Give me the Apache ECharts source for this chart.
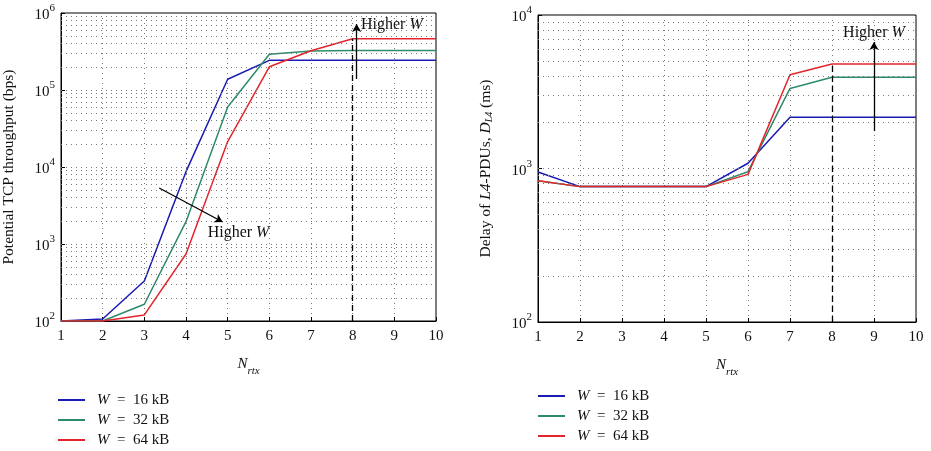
<!DOCTYPE html>
<html><head><meta charset="utf-8">
<script src="https://cdn.jsdelivr.net/npm/echarts@6/dist/echarts.min.js"></script>
<style>html,body{margin:0;padding:0;background:#fff}#c{width:931px;height:451px}</style>
</head><body><div id="c"></div>
<script>
const nrtx = [1,2,3,4,5,6,7,8,9,10];
const seriesNames = ['W = 16 kB','W = 32 kB','W = 64 kB'];
const thrW16 = [100,106,331,8700,138000,243000,243000,243000,243000,243000];
const thrW32 = [100,100,165,1950,60000,291000,321000,325000,325000,325000];
const thrW64 = [100,100,120,741,21400,200000,324000,463000,463000,463000];
const delW16 = [948,762,762,762,762,1082,2160,2160,2160,2160];
const delW32 = [832,762,762,762,762,953,3325,3925,3925,3925];
const delW64 = [832,762,762,762,762,916,4085,4800,4800,4800];
const thrTicks = [1e2,1e3,1e4,1e5,1e6];
const delTicks = [1e2,1e3,1e4];

const colors = ['#1a1ab4','#2e8b6a','#e3242b'];
const FONT = 'Liberation Serif';
const pair = arr => arr.map((v,i)=>[nrtx[i], v]);
function minorVals(ticks){
  const out=[];
  for(let i=0;i<ticks.length-1;i++){
    for(let k=2;k<=9;k++) out.push(ticks[i]*k);
    if(i>0) out.push(ticks[i]);
  }
  return out;
}
const gridLine = {color:'#777', width:1, type:[1,4]};
function gridSeries(idx, ticks){
  return {type:'line', xAxisIndex:idx, yAxisIndex:idx, data:[], z:1, silent:true,
    markLine:{silent:true, symbol:'none', label:{show:false}, lineStyle:gridLine, animation:false,
      data: minorVals(ticks).map(v=>({yAxis:v}))}};
}
const legendFmt = n => { const p = n.split(' = '); return '{i|W}  =  ' + p[1]; };
const legendRich = {i:{fontStyle:'italic', fontFamily:FONT, fontSize:15, color:'#111', lineHeight:14}};
const expFmt = v => '{b|10}{e|' + Math.round(Math.log10(v)) + '}';
const yLabel = {fontFamily:FONT, color:'#111', margin:6,
  formatter: expFmt,
  rich:{b:{fontSize:15, fontFamily:FONT, color:'#111', lineHeight:20, verticalAlign:'bottom'},
        e:{fontSize:11, fontFamily:FONT, color:'#111', lineHeight:10, verticalAlign:'top'}}};
const arrowLine = {color:'#000', width:1.3, type:'solid'};
const higherW = {show:true, formatter:'Higher {i|W}', fontFamily:FONT, fontSize:16, color:'#111',
  rich:{i:{fontStyle:'italic', fontFamily:FONT, fontSize:16, color:'#111'}}};

function xAx(idx){
  return {type:'value', gridIndex:idx, min:1, max:10, interval:1,
    name:'{n|N}{s|rtx}', nameLocation:'middle', nameGap:36,
    nameTextStyle:{rich:{n:{fontStyle:'italic', fontFamily:FONT, fontSize:15, color:'#111', lineHeight:20, verticalAlign:'top'},
      s:{fontStyle:'italic', fontFamily:FONT, fontSize:11, color:'#111', lineHeight:12, verticalAlign:'bottom'}}},
    axisLine:{show:true, lineStyle:{color:'#000', width:1}},
    axisTick:{show:true, inside:true, length:4, lineStyle:{color:'#000'}},
    axisLabel:{fontFamily:FONT, fontSize:15, color:'#111', margin:8},
    splitLine:{show:true, lineStyle:gridLine}};
}
const legendBase = {orient:'vertical', icon:'rect', itemWidth:27, itemHeight:2, itemGap:4, height:75, width:150, padding:0, data:seriesNames,
  formatter:legendFmt, textStyle:{fontFamily:FONT, fontSize:15, color:'#111', lineHeight:16, padding:[0,0,0,7], rich:legendRich}};

const option = {
  animation:false,
  backgroundColor:'#fff',
  color: colors,
  grid:[
    {left:58, right:495, top:13, bottom:130, show:true, borderColor:'#000', borderWidth:1},
    {left:538, right:15, top:15, bottom:129, show:true, borderColor:'#000', borderWidth:1}
  ],
  legend:[
    Object.assign({left:58, top:392}, legendBase),
    Object.assign({left:538, top:388}, legendBase)
  ],
  xAxis:[xAx(0), xAx(1)],
  yAxis:[
    {type:'log', logBase:10, gridIndex:0, min:thrTicks[0], max:thrTicks[thrTicks.length-1],
      name:'Potential TCP throughput (bps)', nameLocation:'middle', nameGap:44,
      nameTextStyle:{fontFamily:FONT, fontSize:15.5, color:'#111'},
      axisLine:{show:true, lineStyle:{color:'#000'}},
      axisTick:{show:true, inside:true, length:4, lineStyle:{color:'#000'}},
      axisLabel:yLabel, splitLine:{show:false}},
    {type:'log', logBase:10, gridIndex:1, min:delTicks[0], max:delTicks[delTicks.length-1],
      name:'Delay of {i|L4}-PDUs, {i|D}{s|L4} (ms)', nameLocation:'middle', nameGap:44,
      nameTextStyle:{fontFamily:FONT, fontSize:15.5, color:'#111',
        rich:{i:{fontStyle:'italic', fontFamily:FONT, fontSize:15.5, color:'#111'},
              s:{fontStyle:'italic', fontFamily:FONT, fontSize:10, color:'#111', verticalAlign:'bottom', lineHeight:8}}},
      axisLine:{show:true, lineStyle:{color:'#000'}},
      axisTick:{show:true, inside:true, length:4, lineStyle:{color:'#000'}},
      axisLabel:yLabel, splitLine:{show:false}}
  ],
  series:[
    gridSeries(0, thrTicks),
    gridSeries(1, delTicks),
    {name:seriesNames[0], type:'line', xAxisIndex:0, yAxisIndex:0, symbol:'none', z:3, lineStyle:{width:1.5, color:colors[0]}, itemStyle:{color:colors[0]}, data:pair(thrW16)},
    {name:seriesNames[1], type:'line', xAxisIndex:0, yAxisIndex:0, symbol:'none', z:3, lineStyle:{width:1.5, color:colors[1]}, itemStyle:{color:colors[1]}, data:pair(thrW32)},
    {name:seriesNames[2], type:'line', xAxisIndex:0, yAxisIndex:0, symbol:'none', z:3, lineStyle:{width:1.5, color:colors[2]}, itemStyle:{color:colors[2]}, data:pair(thrW64),
      markLine:{silent:true, animation:false, label:{show:false}, symbol:['none','none'],
        data:[
          [{coord:[8,100], lineStyle:{color:'#000', width:1.3, type:[6,4]}}, {coord:[8,463000]}],
          [{coord:[8.095,139000], lineStyle:arrowLine, symbol:'none'}, {coord:[8.095,720000], symbol:'arrow', symbolSize:[7,8]}],
          [{coord:[3.357,5330], lineStyle:arrowLine, symbol:'none'}, {coord:[4.881,1930], symbol:'arrow', symbolSize:[7,8]}]
        ]},
      markPoint:{silent:true, animation:false, symbol:'circle', symbolSize:0,
        data:[
          {coord:[8.2,700000], label:Object.assign({position:'right', distance:0}, higherW)},
          {coord:[4.52,1390], label:Object.assign({position:'right', distance:0}, higherW)}
        ]}},
    {name:seriesNames[0], type:'line', xAxisIndex:1, yAxisIndex:1, symbol:'none', z:3, lineStyle:{width:1.5, color:colors[0]}, itemStyle:{color:colors[0]}, data:pair(delW16)},
    {name:seriesNames[1], type:'line', xAxisIndex:1, yAxisIndex:1, symbol:'none', z:3, lineStyle:{width:1.5, color:colors[1]}, itemStyle:{color:colors[1]}, data:pair(delW32)},
    {name:seriesNames[2], type:'line', xAxisIndex:1, yAxisIndex:1, symbol:'none', z:3, lineStyle:{width:1.5, color:colors[2]}, itemStyle:{color:colors[2]}, data:pair(delW64),
      markLine:{silent:true, animation:false, label:{show:false}, symbol:['none','none'],
        data:[
          [{coord:[8,100], lineStyle:{color:'#000', width:1.3, type:[6,4]}}, {coord:[8,4800]}],
          [{coord:[9,1754], lineStyle:arrowLine, symbol:'none'}, {coord:[9,6670], symbol:'arrow', symbolSize:[7,8]}]
        ]},
      markPoint:{silent:true, animation:false, symbol:'circle', symbolSize:0,
        data:[
          {coord:[9,7640], label:Object.assign({position:'inside'}, higherW)}
        ]}}
  ]
};
const chart = echarts.init(document.getElementById('c'), null, {renderer:'canvas'});
chart.setOption(option);
</script></body></html>
